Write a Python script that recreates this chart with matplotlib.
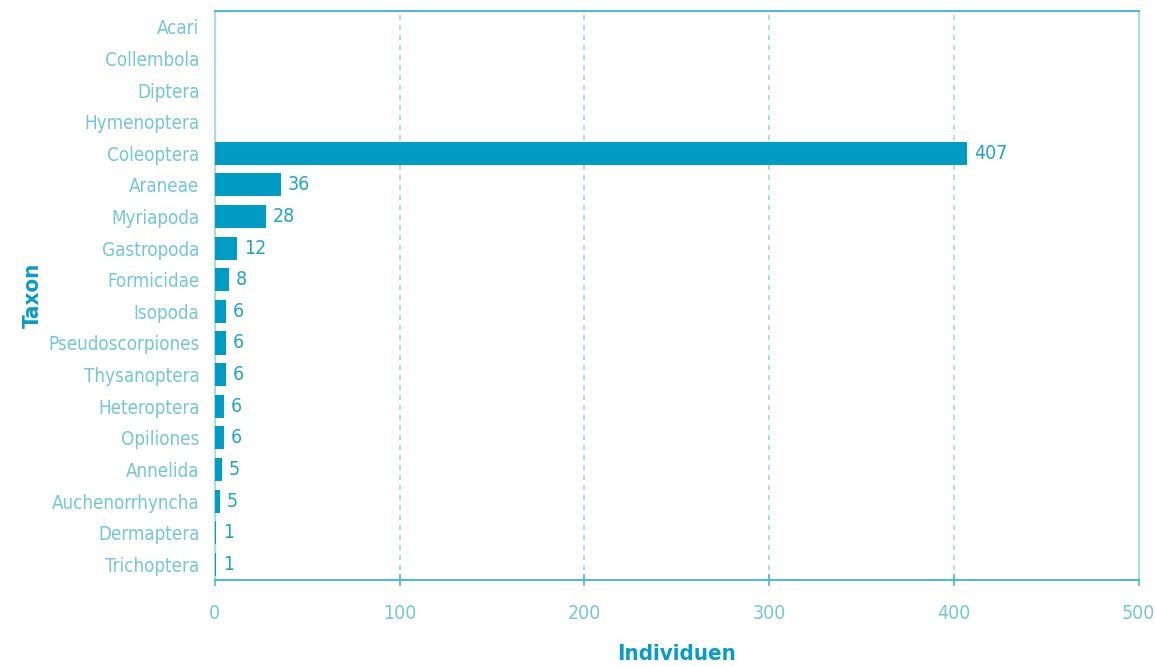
import matplotlib.pyplot as plt

taxa = ['Acari', 'Collembola', 'Diptera', 'Hymenoptera', 'Coleoptera', 'Araneae',
        'Myriapoda', 'Gastropoda', 'Formicidae', 'Isopoda', 'Pseudoscorpiones',
        'Thysanoptera', 'Heteroptera', 'Opiliones', 'Annelida', 'Auchenorrhyncha',
        'Dermaptera', 'Trichoptera']
# bar lengths as drawn in the picture
individuen = [0, 0, 0, 0, 407, 35.7, 27.6, 11.9, 7.6, 6, 6, 6, 4.9, 4.9, 3.8, 2.7, 0.5, 0.5]
# value labels as printed next to the bars
labels = ['', '', '', '', '407', '36', '28', '12', '8', '6', '6', '6', '6', '6', '5', '5', '1', '1']
xticks = [0, 100, 200, 300, 400, 500]

plt.rcParams['font.family'] = ['DejaVu Sans']
plt.rcParams['font.stretch'] = 'condensed'

bar_col = '#009cc4'
tick_col = '#72c6de'
lab_col = '#0a9cc6'

fig = plt.figure(figsize=(11.55, 6.66), dpi=100)
ax = fig.add_axes([0.186, 0.129, 0.8, 0.8545])

y = list(range(len(taxa)))
ax.barh(y, individuen, height=0.73, color=bar_col, zorder=3)
for yi, v, t in zip(y, individuen, labels):
    if t:
        ax.annotate(t, (v, yi), xytext=(5, 0), textcoords='offset points',
                    va='center', ha='left', fontsize=14, color='#1ea4cb')

ax.set_ylim(len(taxa) - 0.5, -0.5)
ax.set_xlim(0, 500)
ax.set_yticks(y)
ax.set_yticklabels(taxa)
ax.set_xticks(xticks)

ax.xaxis.grid(True, linestyle=(0, (3, 3)), color='#9fd8e8', linewidth=1.2, zorder=0)
ax.tick_params(axis='y', length=0, pad=11, labelsize=13.5, labelcolor=tick_col)
ax.tick_params(axis='x', direction='inout', length=8, width=1.2, color='#4fb9d7',
               pad=13, labelsize=14, labelcolor=tick_col)

for s in ['top', 'bottom']:
    ax.spines[s].set_color('#4fb9d7')
    ax.spines[s].set_linewidth(1.5)
for s in ['left', 'right']:
    ax.spines[s].set_color('#aadcea')
    ax.spines[s].set_linewidth(1.5)

ax.set_xlabel('Individuen', fontsize=16, fontweight='bold', color=lab_col, labelpad=15)
ax.set_ylabel('Taxon', fontsize=16, fontweight='bold', color=lab_col, labelpad=4)

fig.savefig('out.png', dpi=100)
